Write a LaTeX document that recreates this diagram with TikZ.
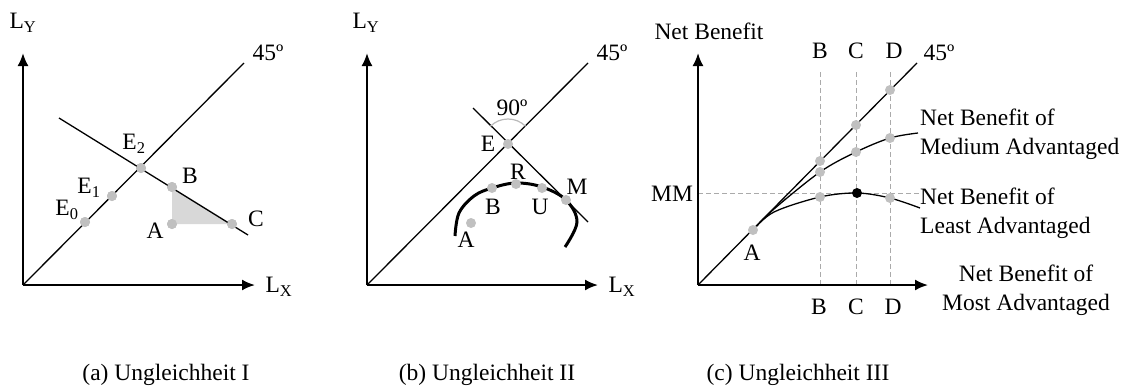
\documentclass[tikz,border=0pt]{standalone}
\usepackage{fontspec}
\setmainfont{Liberation Serif}
\usetikzlibrary{arrows.meta}
\definecolor{dotgray}{RGB}{192,192,192}
\definecolor{trigray}{RGB}{216,216,216}
\definecolor{dashgray}{RGB}{170,170,170}
\definecolor{arcgray}{RGB}{185,185,185}
\begin{document}
\begin{tikzpicture}[x=1pt,y=-1pt,
  every node/.style={font=\fontsize{23.5}{29}\selectfont, inner sep=0pt},
  axis/.style={line width=2pt, -{Latex[length=13pt,width=11pt]}},
  thinline/.style={line width=1.3pt},
  guide/.style={line width=1pt, dashgray, dash pattern=on 5pt off 3pt},
  dot/.style={circle, fill=dotgray, minimum size=10pt, inner sep=0pt},
  blackdot/.style={circle, fill=black, minimum size=10pt, inner sep=0pt},
  lbl/.style={anchor=center},
  caption/.style={anchor=base}]
\useasboundingbox (0,0) rectangle (1130,389);

% ---------------- Panel (a) ----------------
\coordinate (aO) at (23,285);
\coordinate (aYt) at (23,53);
\coordinate (aXt) at (255,285);
\coordinate (a45) at (244,63);
\coordinate (aP1) at (59,118);
\coordinate (aP2) at (248,235);
\node[dot] (aE0) at (85,222) {};
\node[dot] (aE1) at (112,196) {};
\node[dot] (aE2) at (141,168) {};
\node[dot] (aB) at (172,187) {};
\node[dot] (aA) at (172,224) {};
\node[dot] (aC) at (232,224) {};
\fill[trigray] (aA.center) -- (aB.center) -- (aC.center) -- cycle;
\draw[axis] (aO) -- (aYt);
\draw[axis] (aO) -- (aXt);
\draw[thinline] (aO) -- (a45);
\draw[thinline] (aP1) -- (aP2);
\foreach \n in {aE0,aE1,aE2,aB,aA,aC} \node[dot] at (\n) {};
\node[lbl] (aLY) at (23,23) {L\textsubscript{Y}};
\node[lbl] (aLX) at (279,287) {L\textsubscript{X}};
\node[lbl] (a45l) at (268,53) {45º};
\node[lbl] (aE2l) at (134,144) {E\textsubscript{2}};
\node[lbl] (aE1l) at (89,188) {E\textsubscript{1}};
\node[lbl] (aE0l) at (67,210) {E\textsubscript{0}};
\node[lbl] (aBl) at (190,176) {B};
\node[lbl] (aAl) at (155,231) {A};
\node[lbl] (aCl) at (256,219) {C};
\node[caption] (capa) at (166,380) {(a) Ungleichheit I};

% ---------------- Panel (b) ----------------
\coordinate (bO) at (367,285);
\coordinate (bYt) at (367,53);
\coordinate (bXt) at (598,285);
\coordinate (b45) at (588,63);
\coordinate (bP1) at (473,108);
\coordinate (bP2) at (588,222);
\draw[axis] (bO) -- (bYt);
\draw[axis] (bO) -- (bXt);
\draw[thinline] (bO) -- (b45);
\draw[thinline] (bP1) -- (bP2);
\draw[line width=3pt] plot[smooth, tension=0.6] coordinates
  {(455,236) (459,213) (474,196) (492,188) (516,183) (542,187) (566,200) (577,222) (565,247)};
\node[dot] (bE) at (508,144) {};
\node[dot] (bA) at (471,223) {};
\node[dot] (bB) at (492,188) {};
\node[dot] (bR) at (516,184) {};
\node[dot] (bU) at (542,188) {};
\node[dot] (bM) at (566,200) {};
\draw[arcgray, line width=1.2pt] ([shift={(135:25pt)}]bE.center) arc[start angle=135, end angle=45, radius=25pt];
\node[lbl] (bLY) at (366,23) {L\textsubscript{Y}};
\node[lbl] (bLX) at (622,287) {L\textsubscript{X}};
\node[lbl] (b45l) at (612,53) {45º};
\node[lbl] (b90l) at (512,108) {90º};
\node[lbl] (bEl) at (488,144) {E};
\node[lbl] (bRl) at (518,172) {R};
\node[lbl] (bBl) at (493,207) {B};
\node[lbl] (bUl) at (540,207) {U};
\node[lbl] (bMl) at (577,187) {M};
\node[lbl] (bAl) at (466,240) {A};
\node[caption] (capb) at (487,380) {(b) Ungleichheit II};

% ---------------- Panel (c) ----------------
\coordinate (cO) at (698,285);
\coordinate (cYt) at (698,53);
\coordinate (cXt) at (928,285);
\coordinate (c45) at (917,63);
\coordinate (cBt) at (820,72);
\coordinate (cBb) at (820,284);
\coordinate (cCt) at (856,72);
\coordinate (cCb) at (856,284);
\coordinate (cDt) at (890,72);
\coordinate (cDb) at (890,284);
\coordinate (cMMl) at (698,193);
\coordinate (cMMr) at (920,193);
\draw[guide] (cBt) -- (cBb);
\draw[guide] (cCt) -- (cCb);
\draw[guide] (cDt) -- (cDb);
\draw[guide] (cMMl) -- (cMMr);
\draw[axis] (cO) -- (cYt);
\draw[axis] (cO) -- (cXt);
\draw[thinline] (cO) -- (c45);
\draw[thinline] plot[smooth, tension=0.55] coordinates
  {(753,230) (774,209) (820,172) (856,152) (890,138) (918,133)};
\draw[thinline] plot[smooth, tension=0.55] coordinates
  {(753,230) (774,212) (820,197) (857,193) (890,198) (920,208)};
\node[dot] (cA) at (753,230) {};
\node[dot] (cB45) at (820,161) {};
\node[dot] (cC45) at (856,125) {};
\node[dot] (cD45) at (890,90) {};
\node[dot] (cBm) at (820,172) {};
\node[dot] (cCm) at (856,152) {};
\node[dot] (cDm) at (890,138) {};
\node[dot] (cBl) at (820,197) {};
\node[blackdot] (cCl) at (857,193) {};
\node[dot] (cDl) at (890,198) {};
\node[lbl] (cNB) at (709,31) {Net Benefit};
\node[lbl] (c45l) at (939,53) {45º};
\node[lbl] (cBtl) at (820,51) {B};
\node[lbl] (cCtl) at (856,51) {C};
\node[lbl] (cDtl) at (894,51) {D};
\node[lbl] (cBbl) at (819,307) {B};
\node[lbl] (cCbl) at (856,307) {C};
\node[lbl] (cDbl) at (893,307) {D};
\node[lbl] (cMM) at (672,194) {MM};
\node[lbl] (cAl) at (752,253) {A};
\node[anchor=west, align=left] (cMed) at (920,134) {Net Benefit of\\Medium Advantaged};
\node[anchor=west, align=left] (cLeast) at (920,213) {Net Benefit of\\Least Advantaged};
\node[anchor=center, align=center] (cMost) at (1026,290) {Net Benefit of\\Most Advantaged};
\node[caption] (capc) at (798,380) {(c) Ungleichheit III};
\end{tikzpicture}
\end{document}
